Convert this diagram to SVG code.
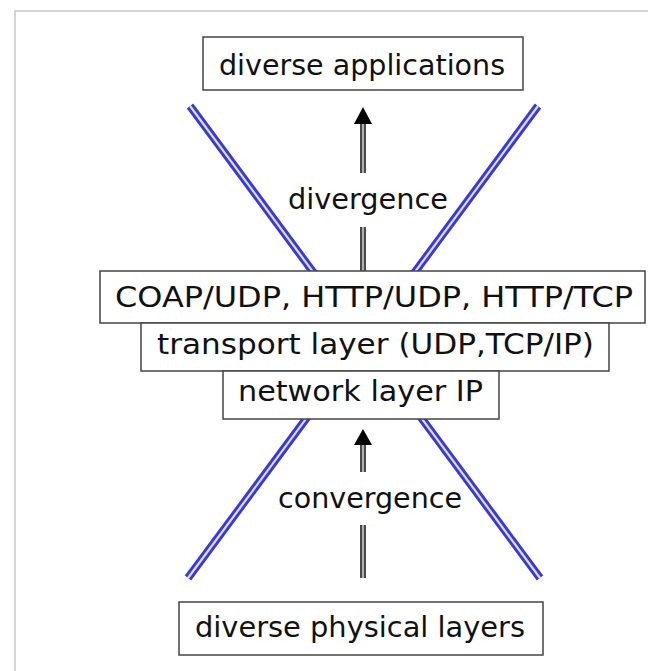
<svg xmlns="http://www.w3.org/2000/svg" width="648" height="671" viewBox="0 0 648 671">
<defs>
<style>
.box{fill:#fff;stroke:#444;stroke-width:1.5}
.t{font-family:"DejaVu Sans","Liberation Sans",sans-serif;font-size:29px;fill:#111;text-anchor:start}
.blueO{stroke:#3a3ad2;stroke-width:8;fill:none}
.blueI{stroke:#dcdcff;stroke-width:2.2;fill:none}
.shaftO{stroke:#4a4a4a;stroke-width:6;fill:none}
.shaftI{stroke:#b0b0b0;stroke-width:2;fill:none}
.head{fill:#000}
</style>
</defs>
<rect width="648" height="671" fill="#fff"/>
<path d="M15,671 V11 H648" fill="none" stroke="#c8c8c8" stroke-width="1.5"/>
<g id="x-lines">
<line class="blueO" x1="190" y1="106" x2="540" y2="578"/>
<line class="blueI" x1="190" y1="106" x2="540" y2="578"/>
<line class="blueO" x1="538" y1="106" x2="188" y2="578"/>
<line class="blueI" x1="538" y1="106" x2="188" y2="578"/>
</g>
<g id="connectors">
<g id="arrow-divergence">
<line class="shaftO" x1="363" y1="122" x2="363" y2="173"/>
<line class="shaftI" x1="363" y1="122" x2="363" y2="173"/>
<line class="shaftO" x1="363" y1="227" x2="363" y2="271"/>
<line class="shaftI" x1="363" y1="227" x2="363" y2="271"/>
<polygon class="head" points="363,107 372,124 354,124"/>
</g>
<g id="arrow-convergence">
<line class="shaftO" x1="363" y1="443" x2="363" y2="472"/>
<line class="shaftI" x1="363" y1="443" x2="363" y2="472"/>
<line class="shaftO" x1="363" y1="525" x2="363" y2="578"/>
<line class="shaftI" x1="363" y1="525" x2="363" y2="578"/>
<polygon class="head" points="363,429 372,445 354,445"/>
</g>
</g>
<g id="label-divergence"><text class="t" x="288" y="209" textLength="160" lengthAdjust="spacingAndGlyphs">divergence</text></g>
<g id="label-convergence"><text class="t" x="278" y="508" textLength="184" lengthAdjust="spacingAndGlyphs">convergence</text></g>
<g id="diverse-applications">
<rect class="box" x="203" y="37" width="320" height="53"/>
<text class="t" x="219" y="75" textLength="286" lengthAdjust="spacingAndGlyphs">diverse applications</text>
</g>
<g id="app-protocols">
<rect class="box" x="100" y="271" width="545" height="52"/>
<text class="t" x="115" y="307" textLength="518" lengthAdjust="spacingAndGlyphs">COAP/UDP, HTTP/UDP, HTTP/TCP</text>
</g>
<g id="transport-layer">
<rect class="box" x="141" y="323" width="468" height="48"/>
<text class="t" x="157" y="354" textLength="437" lengthAdjust="spacingAndGlyphs">transport layer (UDP,TCP/IP)</text>
</g>
<g id="network-layer">
<rect class="box" x="223" y="371" width="276" height="48"/>
<text class="t" x="238" y="401" textLength="245" lengthAdjust="spacingAndGlyphs">network layer IP</text>
</g>
<g id="physical-layers">
<rect class="box" x="179" y="602" width="364" height="53"/>
<text class="t" x="195" y="637" textLength="330" lengthAdjust="spacingAndGlyphs">diverse physical layers</text>
</g>
</svg>
